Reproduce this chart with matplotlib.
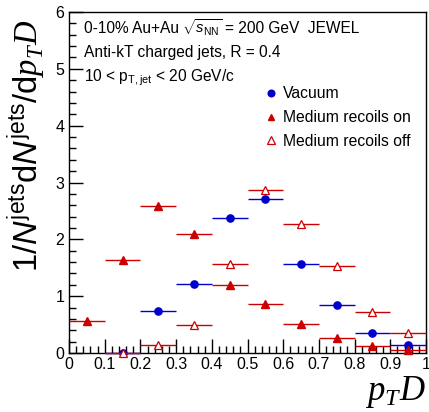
import matplotlib
matplotlib.use("Agg")
import matplotlib.pyplot as plt
from matplotlib.lines import Line2D
from matplotlib.ticker import MultipleLocator

plt.rcParams['font.family'] = ['Liberation Sans', 'DejaVu Sans']
plt.rcParams['mathtext.fontset'] = 'custom'
plt.rcParams['mathtext.rm'] = 'Liberation Sans'
plt.rcParams['mathtext.it'] = 'Liberation Sans:italic'
plt.rcParams['mathtext.cal'] = 'Liberation Serif:italic'

# data
x_vac = [0.15, 0.25, 0.35, 0.45, 0.55, 0.65, 0.75, 0.85, 0.95]
y_vac = [0.0, 0.74, 1.21, 2.38, 2.71, 1.57, 0.84, 0.35, 0.15]
x_on = [0.05, 0.15, 0.25, 0.35, 0.45, 0.55, 0.65, 0.75, 0.85, 0.95]
y_on = [0.56, 1.64, 2.59, 2.10, 1.20, 0.87, 0.52, 0.26, 0.12, 0.05]
x_off = [0.15, 0.25, 0.35, 0.45, 0.55, 0.65, 0.75, 0.85, 0.95]
y_off = [0.0, 0.15, 0.49, 1.57, 2.87, 2.27, 1.53, 0.73, 0.35]
bin_half = 0.05
labels = ["Vacuum", "Medium recoils on", "Medium recoils off"]
xtick_labels = ["0", "0.1", "0.2", "0.3", "0.4", "0.5", "0.6", "0.7", "0.8", "0.9", "1"]

blue = "#0000cc"
red = "#cc0000"

W, H = 429, 412
fig = plt.figure(figsize=(W / 100, H / 100), dpi=100)
ax = fig.add_axes([0.161, 0.143, 0.832, 0.828])

ax.errorbar(x_vac, y_vac, xerr=bin_half, fmt='o', color=blue, ms=5.2,
            elinewidth=1.0, capsize=0, clip_on=False, zorder=3)
ax.errorbar(x_on, y_on, xerr=bin_half, fmt='^', color=red, ms=5.4,
            elinewidth=1.0, capsize=0, clip_on=False, zorder=4)
ax.errorbar(x_off, y_off, xerr=bin_half, fmt='^', color=red, mfc='white',
            mec=red, ms=5.8, mew=0.9, elinewidth=1.0, capsize=0, clip_on=False, zorder=5)

ax.set_xlim(0, 1)
ax.set_ylim(0, 6)
ax.xaxis.set_major_locator(MultipleLocator(0.1))
ax.xaxis.set_minor_locator(MultipleLocator(0.02))
ax.yaxis.set_major_locator(MultipleLocator(1))
ax.yaxis.set_minor_locator(MultipleLocator(0.2))
ax.xaxis.set_ticks([i / 10 for i in range(11)])
ax.set_xticklabels(xtick_labels)
ax.tick_params(which='both', direction='in', top=False, right=False, labelsize=11.5, width=1)
ax.tick_params(which='major', length=10)
ax.tick_params(which='minor', length=5)
ax.tick_params(axis='x', pad=3)
for s in ax.spines.values():
    s.set_linewidth(1)

fig.text(0.993, 0.005, r'$\mathcal{p}_{\mathcal{T}}\mathcal{D}$', fontsize=25, ha='right', va='bottom')

fig.text(0.063, 0.646, r'$1/\mathit{N}^{\mathrm{jets}}\mathrm{d}\mathit{N}^{\mathrm{jets}}/\mathrm{d}\mathcal{p}_{\mathcal{T}}\mathcal{D}$',
         fontsize=23.5, rotation=90, ha='center', va='center')

fs = 11.2
def ftext(px, py, s, size=fs):
    return fig.text(px / W, 1 - py / H, s, fontsize=size, va='baseline')

renderer = fig.canvas.get_renderer()
t1 = ftext(84, 33, '0-10% Au+Au')
x1 = t1.get_window_extent(renderer).x1 + 3
t2 = ftext(x1, 33, r'$\sqrt{s_{\mathrm{NN}}}$', size=10.5)
x2 = t2.get_window_extent(renderer).x1 + 3
ftext(x2, 33, '= 200 GeV  JEWEL')
ftext(84, 57.5, 'Anti-kT charged jets, R = 0.4')
ftext(84, 81.5, r'10 < p$_{\mathrm{T,jet}}$ < 20 GeV/c')

handles = [Line2D([], [], ls='none', marker='o', color=blue, ms=4.8),
           Line2D([], [], ls='none', marker='^', color=red, ms=5),
           Line2D([], [], ls='none', marker='^', color=red, mfc='white', mec=red, ms=5.3, mew=0.9)]
ax.legend(handles, labels, loc='upper left', bbox_to_anchor=(0.525, 0.805), frameon=False,
          fontsize=11.3, handlelength=0.8, handletextpad=0.4, labelspacing=0.56, borderpad=0)

fig.savefig("out.png", dpi=100)
